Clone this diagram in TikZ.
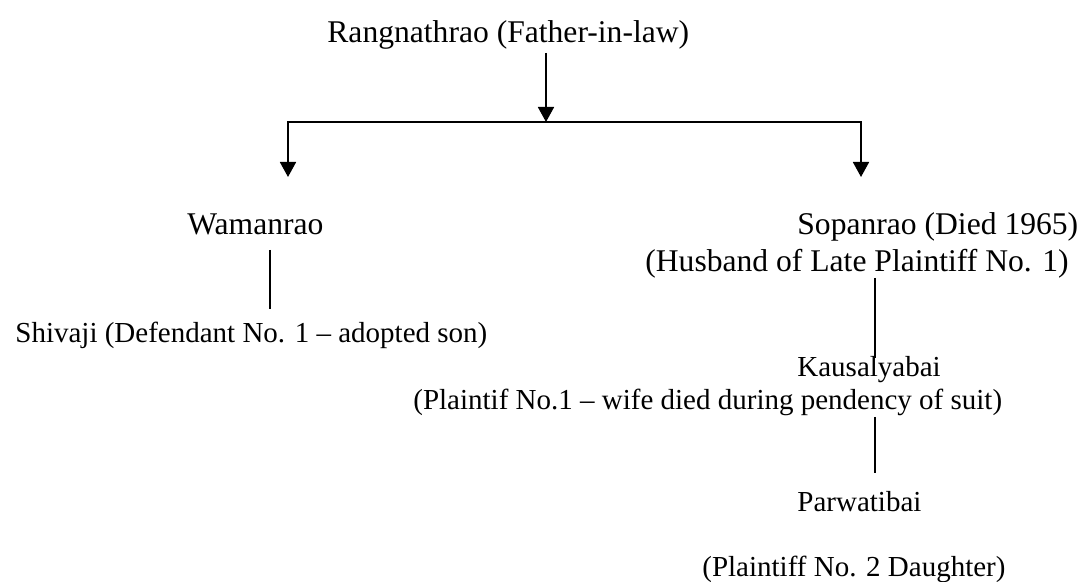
\documentclass[tikz,border=0pt]{standalone}
\usepackage{fontspec}
\setmainfont{Liberation Serif}
\usetikzlibrary{arrows.meta}

\begin{document}
\begin{tikzpicture}[x=0.5pt,y=-0.5pt,font=\fontsize{15.8}{19}\selectfont,
  every node/.style={inner sep=0pt,anchor=base west},
  lesser/.style={font=\fontsize{14.5}{17}\selectfont},
  arr/.style={line width=0.9pt,-{Triangle[width=8pt,length=7.5pt]}},
  bus/.style={line width=0.9pt,{Triangle[width=8pt,length=7.5pt]}-{Triangle[width=8pt,length=7.5pt]}},
  link/.style={line width=0.8pt}]
\useasboundingbox (0,0) rectangle (1083,582);
% the people
\node (rang) at (327,43) {Rangnathrao (Father-in-law)};
\node (wam) at (187,235) {Wamanrao};
\node[lesser] (shiv) at (15,343) {Shivaji (Defendant No. 1 – adopted son)};
\node (sop) at (797,235) {Sopanrao (Died 1965)};
\node (husb) at (645,272) {(Husband of Late Plaintiff No. 1)};
\node[lesser] (kaus) at (797,377) {Kausalyabai};
\node[lesser] (kausb) at (413,410) {(Plaintif No.1 – wife died during pendency of suit)};
\node[lesser] (parw) at (797,512) {Parwatibai};
\node[lesser] (parwb) at (702,577) {(Plaintiff No. 2 Daughter)};
% the fork below the father-in-law
\coordinate (fork) at (546,122);
\coordinate (wtip) at (288,177);
\coordinate (stip) at (861,177);
\draw[arr] ([yshift=-5pt]rang.base -| fork) -- (fork);
\draw[bus] (wtip) |- (fork) -| (stip);
% the plain descent lines
\coordinate (wline) at (270,0);
\coordinate (sline) at (875,0);
\draw[link] ([yshift=-7.5pt]wam.base -| wline) -- ([yshift=17pt]shiv.base -| wline);
\draw[link] ([yshift=-3pt]husb.base -| sline) -- ([yshift=9.5pt]kaus.base -| sline);
\draw[link] ([yshift=-3.5pt]kausb.base -| sline) -- ([yshift=19.5pt]parw.base -| sline);
\end{tikzpicture}
\end{document}
